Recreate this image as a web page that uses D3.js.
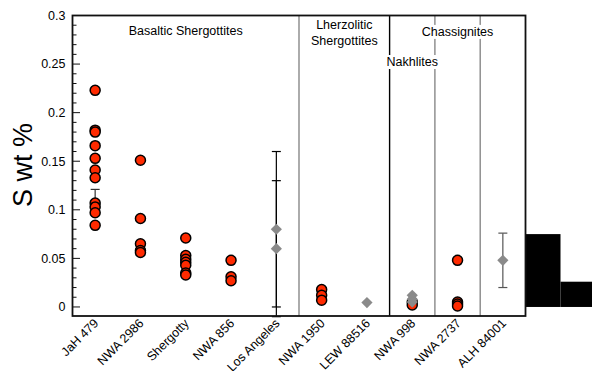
<!DOCTYPE html>
<meta charset="utf-8">
<script src="https://d3js.org/d3.v7.min.js"></script>
<style>
  body { margin: 0; background: #fff; }
  text { font-family: "Liberation Sans", Arial, Helvetica, sans-serif; }
</style>
<div id="viz"></div>
<script>
// meteorite samples along the x axis
var samples = ["JaH 479", "NWA 2986", "Shergotty", "NWA 856", "Los Angeles",
               "NWA 1950", "LEW 88516", "NWA 998", "NWA 2737", "ALH 84001"];

// S wt % measured (red circles), one list per sample
var measuredS = [
  [0.223, 0.182, 0.180, 0.166, 0.153, 0.141, 0.133, 0.107, 0.103, 0.097, 0.084],
  [0.151, 0.091, 0.065, 0.058, 0.056],
  [0.071, 0.053, 0.049, 0.046, 0.043, 0.035, 0.033],
  [0.048, 0.031, 0.027],
  [],
  [0.018, 0.012, 0.007],
  [],
  [0.005, 0.002],
  [0.048, 0.005, 0.003, 0.001],
  []
];

// literature values (grey diamonds)
var literatureS = [
  [], [], [], [],
  [0.080, 0.060],
  [],
  [0.0045],
  [0.012, 0.008, 0.005],
  [],
  [0.048]
];

// error bars
var errSample = ["JaH 479", "Shergotty", "Los Angeles", "Los Angeles", "ALH 84001"];
var errLow    = [0.095, 0.038, 0.0, -0.01, 0.020];
var errHigh   = [0.121, 0.056, 0.16, 0.13, 0.076];
var errColor  = ["#333", "#333", "#000", "#000", "#555"];

// group dividers (after these sample indices) and group labels
var dividerAfter = [4, 6, 7, 8];
var dividerColor = ["#888", "#000", "#888", "#888"];
var groupNames = [["Basaltic Shergottites"], ["Lherzolitic", "Shergottites"], ["Nakhlites"], ["Chassignites"]];
var groupPos   = [2.5, 6.0, 7.5, 8.5];   // in band units
var groupLabelY = [0.280, 0.286, 0.248, 0.279];

var yTicks = [0, 0.05, 0.1, 0.15, 0.2, 0.25, 0.3];

// black block at the right edge (two steps)
var blockTop = [0.075, 0.026];

var W = 592, H = 371;
var svg = d3.select("#viz").append("svg").attr("width", W).attr("height", H);

var pLeft = 72.5, pRight = 525.5, pTop = 15.5, pBottom = 316;

var x = d3.scaleBand().domain(samples).range([pLeft, pRight]).padding(0);
var xc = function (s) { return x(s) + x.bandwidth() / 2; };
var xb = function (u) { return pLeft + u * x.bandwidth(); };

var y = d3.scaleLinear().domain([-0.0093, 0.3]).range([pBottom, pTop]);

// black block
svg.append("g").selectAll("rect").data(blockTop).join("rect")
  .attr("x", function (d, i) { return i == 0 ? pRight : pRight + 35; })
  .attr("width", function (d, i) { return i == 0 ? 35 : W - pRight - 35; })
  .attr("y", function (d) { return y(d); })
  .attr("height", function (d) { return y(0) - y(d); })
  .attr("fill", "#000");

// dividers
svg.append("g").selectAll("line").data(dividerAfter).join("line")
  .attr("x1", function (d) { return xb(d + 1); })
  .attr("x2", function (d) { return xb(d + 1); })
  .attr("y1", pTop).attr("y2", pBottom)
  .attr("stroke", function (d, i) { return dividerColor[i]; })
  .attr("stroke-width", 1.4);

// error bars
var eb = svg.append("g");
errSample.forEach(function (s, i) {
  var cx = xc(s);
  eb.append("line").attr("x1", cx).attr("x2", cx)
    .attr("y1", y(errLow[i])).attr("y2", y(errHigh[i]))
    .attr("stroke", errColor[i]).attr("stroke-width", 1.2);
  [errLow[i], errHigh[i]].forEach(function (v) {
    eb.append("line").attr("x1", cx - 4.5).attr("x2", cx + 4.5)
      .attr("y1", y(v)).attr("y2", y(v))
      .attr("stroke", errColor[i]).attr("stroke-width", 1.2);
  });
});

// red circles
var redData = [];
measuredS.forEach(function (vals, i) {
  vals.forEach(function (v) { redData.push({s: samples[i], v: v}); });
});
svg.append("g").selectAll("circle").data(redData).join("circle")
  .attr("cx", function (d) { return xc(d.s); })
  .attr("cy", function (d) { return y(d.v); })
  .attr("r", 5)
  .attr("fill", "#ff2a00")
  .attr("stroke", "#000")
  .attr("stroke-width", 1.5);

// grey diamonds
var greyData = [];
literatureS.forEach(function (vals, i) {
  vals.forEach(function (v) { greyData.push({s: samples[i], v: v}); });
});
svg.append("g").selectAll("path").data(greyData).join("path")
  .attr("d", d3.symbol(d3.symbolDiamond2, 80))
  .attr("transform", function (d) { return "translate(" + xc(d.s) + "," + y(d.v) + ")"; })
  .attr("fill", "#8a8a8a");

// frame
svg.append("rect")
  .attr("x", pLeft).attr("y", pTop)
  .attr("width", pRight - pLeft).attr("height", pBottom - pTop)
  .attr("fill", "none").attr("stroke", "#111").attr("stroke-width", 1.8);

// y axis: inward ticks, minor every 0.01
var yAxis = svg.append("g").attr("transform", "translate(" + pLeft + ",0)");
yAxis.selectAll("line").data(d3.range(0, 0.3001, 0.01)).join("line")
  .attr("x1", 0).attr("x2", function (d) {
    return Math.round(d * 100) % 5 == 0 ? 7.5 : 4;
  })
  .attr("y1", function (d) { return y(d); })
  .attr("y2", function (d) { return y(d); })
  .attr("stroke", "#111").attr("stroke-width", 1);
yAxis.selectAll("text").data(yTicks).join("text")
  .attr("x", -7).attr("y", function (d) { return y(d); })
  .attr("dy", "0.35em")
  .attr("text-anchor", "end")
  .attr("font-size", 12.5)
  .text(function (d) { return d3.format("")(d); });

// y title
svg.append("text")
  .attr("transform", "translate(32,165) rotate(-90)")
  .attr("text-anchor", "middle")
  .attr("font-size", 27)
  .text("S wt %");

// x labels rotated
svg.append("g").selectAll("text").data(samples).join("text")
  .attr("transform", function (d) { return "translate(" + (xc(d) + 4) + "," + (pBottom + 8) + ") rotate(-45)"; })
  .attr("text-anchor", "end")
  .attr("font-size", 12.5)
  .text(function (d) { return d; });

// group labels with white backing
groupNames.forEach(function (lines, i) {
  var g = svg.append("g");
  var t = g.append("text")
    .attr("x", xb(groupPos[i]))
    .attr("y", y(groupLabelY[i]))
    .attr("text-anchor", "middle")
    .attr("font-size", 12.5);
  lines.forEach(function (l, k) {
    t.append("tspan").attr("x", xb(groupPos[i])).attr("dy", k == 0 ? 0 : 16).text(l);
  });
  var bb = t.node().getBBox();
  g.insert("rect", "text")
    .attr("x", bb.x - 1).attr("y", bb.y)
    .attr("width", bb.width + 2).attr("height", bb.height)
    .attr("fill", "#fff");
});
</script>
